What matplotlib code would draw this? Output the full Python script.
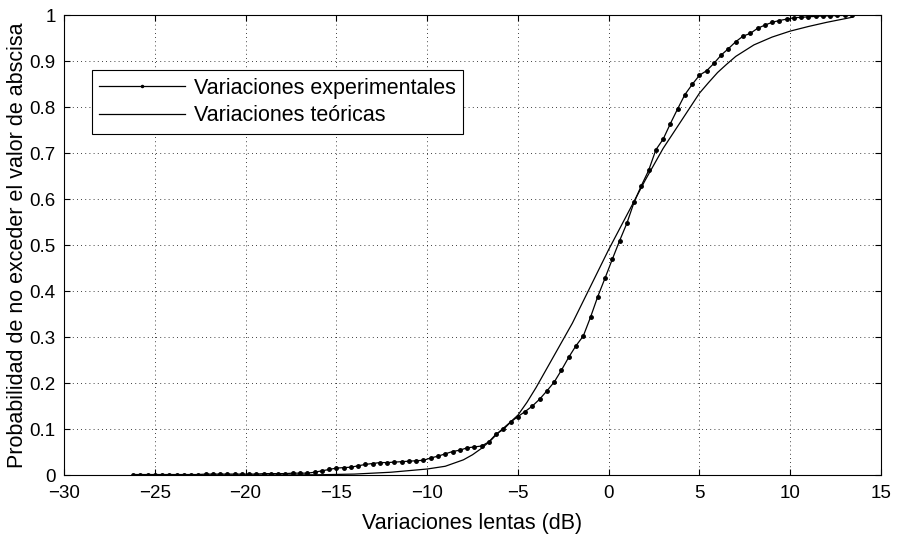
import numpy as np
import matplotlib.pyplot as plt

plt.rcParams['font.family'] = ['Liberation Sans', 'DejaVu Sans']

# experimental points, 100 samples every 0.4 dB from -26.2 to 13.4 dB
x_exp = np.round(np.linspace(-26.2, 13.4, 100), 2)
y_exp = [0.001, 0.001, 0.001, 0.001, 0.001, 0.001, 0.001, 0.001, 0.001, 0.001,
         0.002, 0.002, 0.002, 0.002, 0.002, 0.002, 0.002, 0.002, 0.003, 0.003,
         0.003, 0.003, 0.004, 0.004, 0.004, 0.006, 0.009, 0.012, 0.015, 0.016,
         0.017, 0.020, 0.023, 0.025, 0.027, 0.027, 0.028, 0.029, 0.030, 0.031,
         0.032, 0.037, 0.041, 0.046, 0.051, 0.054, 0.059, 0.061, 0.063, 0.072,
         0.089, 0.099, 0.115, 0.127, 0.138, 0.150, 0.165, 0.183, 0.202, 0.228,
         0.256, 0.281, 0.302, 0.343, 0.388, 0.428, 0.469, 0.509, 0.547, 0.593,
         0.629, 0.662, 0.707, 0.730, 0.764, 0.796, 0.827, 0.849, 0.869, 0.879,
         0.895, 0.913, 0.927, 0.942, 0.954, 0.960, 0.971, 0.978, 0.984, 0.988,
         0.991, 0.994, 0.995, 0.996, 0.997, 0.998, 0.998, 0.999, 0.999, 1.000]

# theoretical curve
x_teo = [-26.2, -20, -16, -14, -12, -10, -9, -8, -7.5, -7, -6.5, -6, -5.5, -5, -4.5,
         -4, -3, -2, -1, 0, 1, 2, 3, 4, 5, 5.5, 6, 6.5, 7, 8, 9, 10, 11, 12, 13.4]
y_teo = [0.0, 0.0, 0.0005, 0.002, 0.006, 0.013, 0.019, 0.033, 0.044, 0.058, 0.075,
         0.095, 0.112, 0.13, 0.158, 0.19, 0.26, 0.33, 0.41, 0.49, 0.565, 0.64, 0.71,
         0.77, 0.83, 0.853, 0.875, 0.893, 0.91, 0.935, 0.952, 0.965, 0.975, 0.984, 0.995]

xticks = np.arange(-30, 16, 5)
yticks = np.round(np.arange(0, 1.01, 0.1), 1)

fig = plt.figure(figsize=(8.97, 5.34), dpi=100)
ax = fig.add_axes([64 / 897, 1 - 475 / 534, 817 / 897, 460 / 534])

ax.plot(x_exp, y_exp, 'k.-', lw=0.9, markersize=5, label='Variaciones experimentales')
ax.plot(x_teo, y_teo, 'k-', lw=0.9, label='Variaciones teóricas')

ax.set_xlim(-30, 15)
ax.set_ylim(0, 1)
ax.set_xticks(xticks)
ax.set_yticks(yticks)
ax.set_yticklabels([f'{v:g}' for v in yticks])
ax.tick_params(direction='in', top=True, right=True, labelsize=13.5, length=4, width=0.8)
ax.tick_params(axis='x', pad=7)
ax.tick_params(axis='y', pad=6)
ax.grid(True, color='k', linestyle=(0, (1, 4)), linewidth=0.6)
for s in ax.spines.values():
    s.set_linewidth(0.8)

ax.set_xlabel('Variaciones lentas (dB)', fontsize=15.5, labelpad=8)
ax.set_ylabel('Probabilidad de no exceder el valor de abscisa', fontsize=15.5, labelpad=1)

leg = ax.legend(loc='upper left', bbox_to_anchor=(0.034, 0.880), borderaxespad=0,
                fontsize=15.5, handlelength=4.0, fancybox=False, framealpha=1,
                edgecolor='k', borderpad=0.35, labelspacing=0.3, handletextpad=0.4)
leg.get_frame().set_linewidth(0.8)
leg.legend_handles[0].set_markersize(3)

fig.savefig('out.png', dpi=100)
